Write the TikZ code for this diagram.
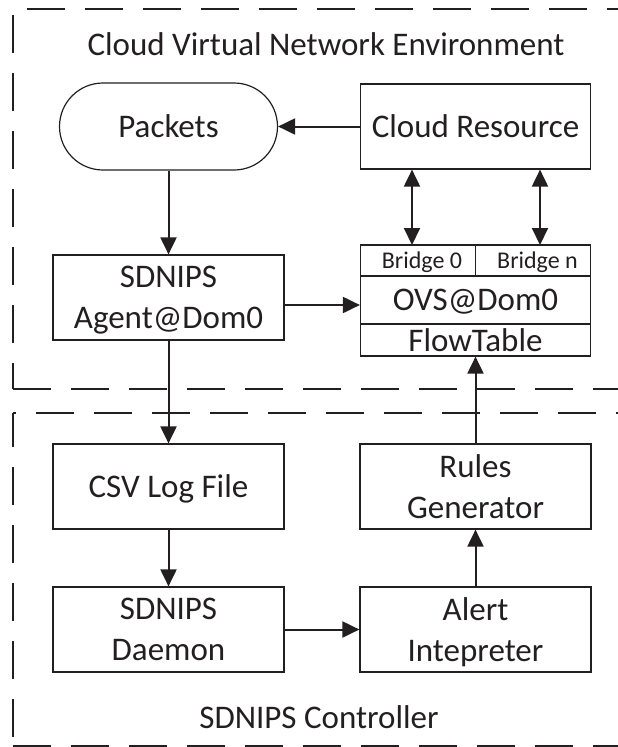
\documentclass[tikz,border=0pt]{standalone}
\usepackage{fontspec}
\setmainfont{Carlito}
\usetikzlibrary{arrows.meta}
\definecolor{ink}{RGB}{35,31,32}
\begin{document}
\begin{tikzpicture}[x=1pt,y=-1pt,
  big/.style={font=\fontsize{33}{41}\selectfont, text=ink},
  small/.style={font=\fontsize{24}{28}\selectfont, text=ink},
  box/.style={big, draw=ink, line width=1.2pt, minimum width=231pt, minimum height=85pt, inner sep=0pt, align=center, text depth=0pt},
  cell/.style={draw=ink, line width=1.2pt, minimum width=230pt, inner sep=0pt},
  arr/.style={draw=ink, line width=2pt, -{Triangle[length=17pt,width=16pt]}},
  darr/.style={draw=ink, line width=2pt, {Triangle[length=17pt,width=16pt]}-{Triangle[length=17pt,width=16pt]}},
  bnd/.style={draw=ink, line width=2.8pt, dash pattern=on 38pt off 20pt},
]
\useasboundingbox (0,0) rectangle (618,747);

% boundaries
\draw[bnd, dash phase=44pt] (13,9) -- (630,9);
\draw[bnd] (13,15) -- (13,389);
\draw[bnd] (13,389) -- (630,389);
\draw[bnd, dash phase=35pt] (13,413) -- (630,413);
\draw[bnd, dash phase=4pt] (13,413) -- (13,746);
\draw[bnd] (13,746) -- (630,746);

% titles
\node[big, anchor=base] (t1) at (326,55) {Cloud Virtual Network Environment};
\node[big, anchor=base] (t2) at (319,728) {SDNIPS Controller};

% nodes
\node[box, rounded corners=43.5pt, minimum width=218pt, minimum height=87pt] (pk) at (168.5,126.5) {Packets};
\node[box, minimum width=230pt] (cr) at (475.5,126.5) {Cloud Resource};

\node[cell, minimum height=31pt] (brow) at (475.5,260.5) {};
\node[cell, minimum width=115pt, minimum height=31pt] (b0) at (418,260.5) {};
\node[cell, minimum width=115pt, minimum height=31pt] (bn) at (533,260.5) {};
\node[small, anchor=base] (b0t) at (422,268) {Bridge 0};
\node[small, anchor=base] (bnt) at (537.5,268) {Bridge n};
\node[cell, big, minimum height=48pt, text depth=0pt] (ovs) at (475.5,300) {OVS@Dom0};
\node[cell, big, minimum height=32pt, text depth=0pt] (ft) at (475.5,340) {FlowTable};

\node[box] (ag) at (168.5,297.5) {SDNIPS\\Agent@Dom0};
\node[box] (csv) at (168.5,486.5) {CSV Log File};
\node[box] (rg) at (475.5,486.5) {Rules\\Generator};
\node[box] (dm) at (168.5,629.5) {SDNIPS\\Daemon};
\node[box] (al) at (475.5,629.5) {Alert\\Intepreter};

% connectors
\draw[arr] (cr.west) -- (pk.east);
\draw[arr] (pk.south) -- (ag.north);
\coordinate (a1) at ([yshift=-7.5pt]ag.east);
\draw[arr] (a1) -- (a1 -| ovs.west);
\coordinate (d0) at (412,245);
\coordinate (d1) at (540,245);
\draw[darr] (d0 |- cr.south) -- (d0);
\draw[darr] (d1 |- cr.south) -- (d1);
\draw[arr] (ag.south) -- (csv.north);
\draw[arr] (csv.south) -- (dm.north);
\draw[arr] (dm.east) -- (al.west);
\draw[arr] (al.north) -- (rg.south);
\draw[arr] (rg.north) -- (ft.south);
\end{tikzpicture}
\end{document}
